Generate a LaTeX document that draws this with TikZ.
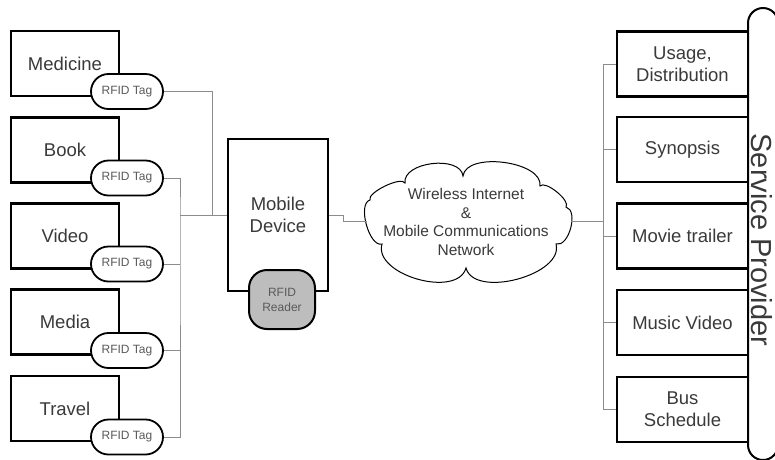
\documentclass[tikz,border=0pt]{standalone}
\usepackage{fontspec}
\setmainfont{Liberation Sans}
\definecolor{ink}{HTML}{3A3A3A}
\definecolor{tagink}{HTML}{5A5A5A}
\definecolor{wire}{HTML}{8C8C8C}
\definecolor{readerfill}{HTML}{BDBDBD}
\tikzset{
  itembox/.style={draw=black, line width=2.4pt, fill=white, minimum width=108pt,
    minimum height=65pt, inner sep=0pt, align=center, text=ink,
    font=\fontsize{18.5}{22}\selectfont},
  servbox/.style={itembox, minimum width=131pt},
  tagbox/.style={draw=black, line width=1.8pt, fill=white, rounded corners=17.5pt,
    minimum width=72pt, minimum height=35pt, inner sep=0pt, text=tagink,
    font=\fontsize{12}{14}\selectfont},
  devbox/.style={draw=black, line width=2.4pt, fill=white, minimum width=100pt,
    minimum height=152pt, inner sep=0pt, align=center, text=ink,
    font=\fontsize{18.5}{22}\selectfont},
  readerbox/.style={draw=black, line width=2pt, fill=readerfill, rounded corners=18pt,
    minimum width=66pt, minimum height=59pt, inner sep=0pt, align=center, text=tagink,
    font=\fontsize{12}{15}\selectfont},
  conn/.style={draw=wire, line width=1pt},
}
\begin{document}
\begin{tikzpicture}[x=1pt,y=-1pt]
\useasboundingbox (0,0) rectangle (775,459);
\fill[white] (0,0) rectangle (775,459);

% service provider frame (runs off the right edge)
\begin{scope}
  \clip (0,0) rectangle (775,459);
  \draw[line width=2pt, rounded corners=15pt] (778,8) -- (748,8) -- (748,460) -- (778,460) -- cycle;
  \node[rotate=-90, anchor=base, text=ink, font=\fontsize{29}{32}\selectfont, inner sep=0pt]
    (sp) at (751,240) {Service Provider};
\end{scope}

% item boxes on the left
\node[itembox] (i1) at (65,63.5)  {Medicine};
\node[itembox] (i2) at (65,150)   {Book};
\node[itembox] (i3) at (65,236)   {Video};
\node[itembox] (i4) at (65,322)   {Media};
\node[itembox] (i5) at (65,408.5) {Travel};

% RFID tags
\node[tagbox] (t1) at (127,91.5) {RFID Tag};
\node[tagbox] (t2) at (127,178)  {RFID Tag};
\node[tagbox] (t3) at (127,264)  {RFID Tag};
\node[tagbox] (t4) at (127,350.5){RFID Tag};
\node[tagbox] (t5) at (127,437)  {RFID Tag};

% mobile device with reader
\node[devbox] (md) at (278,215) {Mobile\\Device};
\node[readerbox] (rd) at (282,299.5) {RFID\\Reader};

% network cloud
\draw[line width=1pt, fill=white]
  (370,200) .. controls (366.5,192.8) and (401.5,175.8) .. (405,183)
  .. controls (402.4,161.8) and (460.4,154.8) .. (463,176)
  .. controls (466.2,151.2) and (543.2,161.2) .. (540,186)
  .. controls (545,179.8) and (571,200.8) .. (566,207)
  .. controls (578.9,210.5) and (568.9,247.5) .. (556,244)
  .. controls (564.3,274.9) and (474.3,298.9) .. (466,268)
  .. controls (457.2,298.8) and (373.2,274.8) .. (382,244)
  .. controls (369.1,247.5) and (357.1,203.5) .. (370,200) -- cycle;
\node[align=center, text=ink, font=\fontsize{15.5}{18.5}\selectfont] (net) at (466,222)
  {Wireless Internet\\\&\\Mobile Communications\\Network};
\coordinate (netW) at (366.5,221);
\coordinate (netE) at (570.5,221);

% service boxes on the right
\node[servbox] (s1) at (682.5,64)    {Usage,\\Distribution};
\node[servbox] (s2) at (682.5,149.5) {Synopsis};
\node[servbox] (s3) at (682.5,236)   {Movie trailer};
\node[servbox] (s4) at (682.5,322.5) {Music Video};
\node[servbox] (s5) at (682.5,409.5) {Bus\\Schedule};

% junction points
\coordinate (jM) at (212,215);
\coordinate (jL) at (180,215);
\coordinate (kink) at (343,215);
\coordinate (jR) at (603,221);

% tags to device
\draw[conn] (t1.east) -| (jM);
\draw[conn] (t2.east) -| (jL) |- (t5.east);
\draw[conn] (t3.east) -- (t3.east -| jL);
\draw[conn] (t4.east) -- (t4.east -| jL);
\draw[conn] (jL) -- (md.west);

% device to network
\draw[conn] (md.east) -- (kink) -- (kink |- netW) -- (netW);

% network to services
\draw[conn] (netE) -- (jR);
\draw[conn] (s1.west) -| (jR) |- (s5.west);
\draw[conn] (s2.west) -- (s2.west -| jR);
\draw[conn] (s3.west) -- (s3.west -| jR);
\draw[conn] (s4.west) -- (s4.west -| jR);
\end{tikzpicture}
\end{document}
